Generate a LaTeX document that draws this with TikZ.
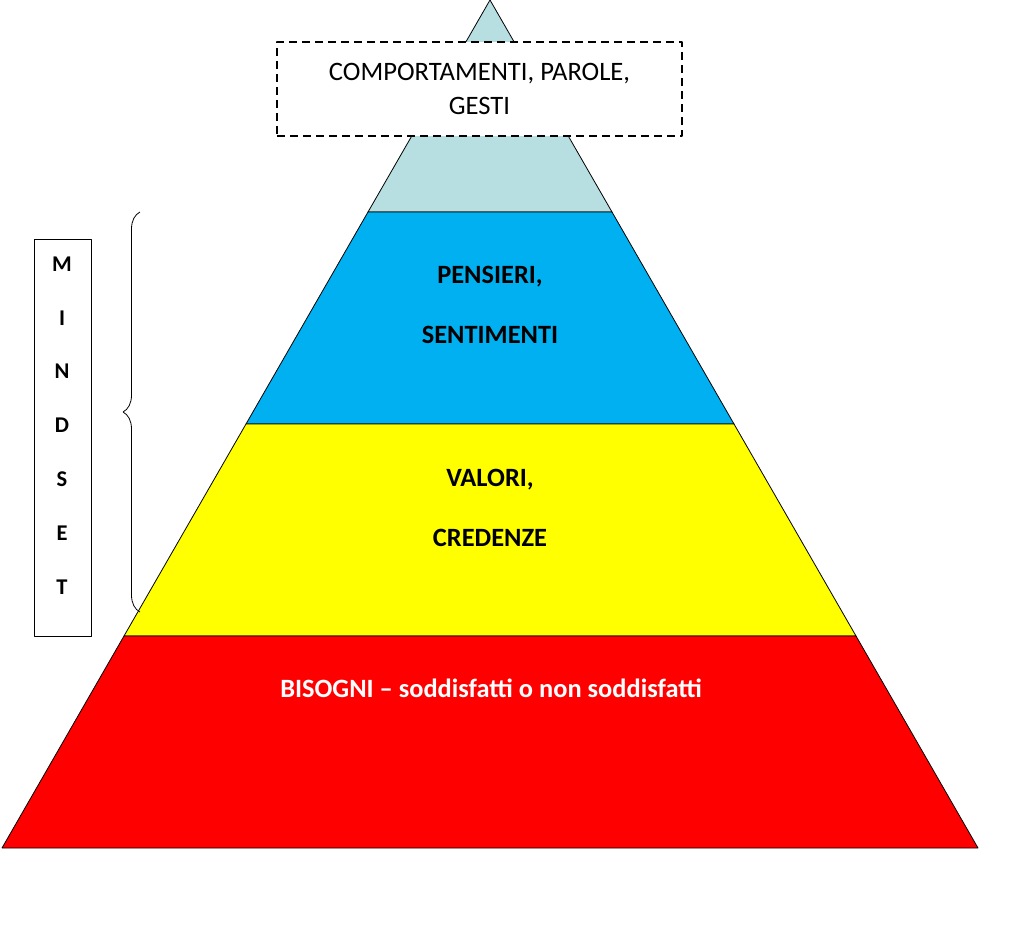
\documentclass[tikz,border=0pt]{standalone}
\usepackage{fontspec}
\setmainfont{Carlito}
\usetikzlibrary{decorations.pathreplacing}

\definecolor{tipcol}{RGB}{183,222,225}
\definecolor{bluecol}{RGB}{0,176,240}
\definecolor{yellowcol}{RGB}{255,255,0}
\definecolor{redcol}{RGB}{255,0,0}

\begin{document}
\begin{tikzpicture}[x=1pt, y=-1pt, line join=bevel]
    \pgfmathsetmacro{\apex}{490}
    \pgfmathsetmacro{\slope}{488/848}

    \tikzset{%
      apply style/.code  = {\tikzset{#1}},
      layer_edges/.style = {draw=black, line width=0.8pt},
      layer_text/.style  = {font=\bfseries\fontsize{26.4}{60}\selectfont, align=center}
    }
    \useasboundingbox (0,0) rectangle (1024,928);

    % pyramid layers, top to bottom
    \foreach \ytop/\ybot/\facestyle in {%
        0/212/{layer_edges, fill = tipcol},
      212/424/{layer_edges, fill = bluecol},
      424/636/{layer_edges, fill = yellowcol},
      636/848/{layer_edges, fill = redcol}%
    }{
      \draw[apply style/.expand once=\facestyle]
        ({\apex-\slope*\ytop},\ytop) -- ({\apex+\slope*\ytop},\ytop) --
        ({\apex+\slope*\ybot},\ybot) -- ({\apex-\slope*\ybot},\ybot) --
        cycle;
    }

    \node[draw, line width=1.8pt, dash pattern=on 8pt off 5pt, fill=white,
          minimum width=405, minimum height=94, align=center,
          font=\fontsize{26.6}{34}\selectfont] (gesti) at (479.5,89)
      {COMPORTAMENTI, PAROLE,\\GESTI};

    \node[layer_text] (pensieri) at (490,305) {PENSIERI,\\SENTIMENTI};
    \node[layer_text] (valori)   at (490,508) {VALORI,\\CREDENZE};
    \node[layer_text, text=white] (bisogni) at (491,688)
      {BISOGNI -- soddisfatti o non soddisfatti};

    % mindset label and brace
    \node[draw, line width=1pt, minimum width=57, minimum height=397] (mindset) at (62.5,437.5) {};
    \foreach \letter [count=\i] in {M,I,N,D,S,E,T}
      \node[font=\bfseries\fontsize{22.5}{26}\selectfont] (mindset-\i) at (62,{264+53.8*(\i-1)}) {\letter};

    \coordinate (brace_low)  at (140,612);
    \coordinate (brace_high) at (140,212);
    \draw[decorate, decoration={brace, amplitude=17pt}, line width=0.8pt]
      (brace_low) -- (brace_high);
\end{tikzpicture}
\end{document}
